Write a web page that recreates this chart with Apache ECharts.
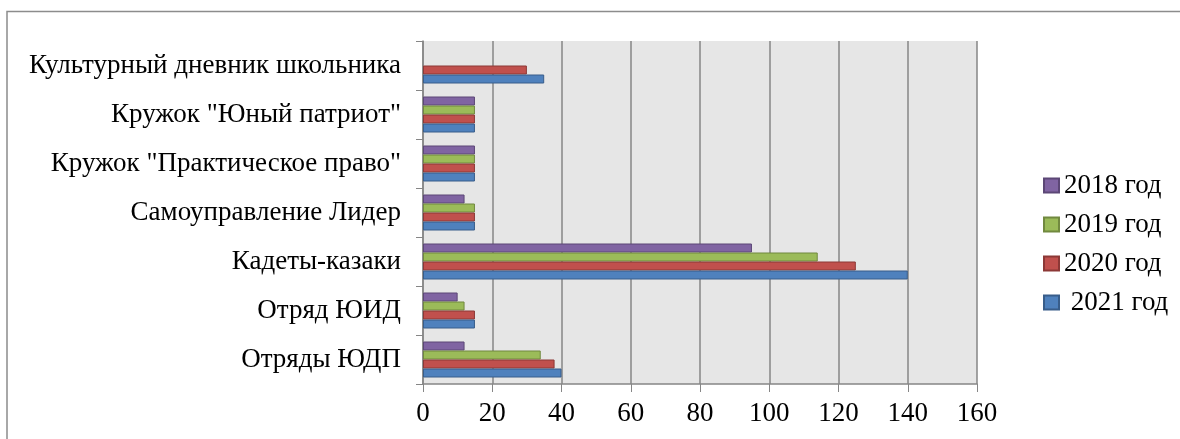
<!DOCTYPE html>
<html><head><meta charset="utf-8">
<script src="https://cdn.jsdelivr.net/npm/echarts@6/dist/echarts.min.js"></script>
<style>html,body{margin:0;padding:0;background:#fff}#c{width:1180px;height:439px}</style>
</head><body><div id="c"></div>
<script>
const categories = ['Отряды ЮДП','Отряд ЮИД','Кадеты-казаки','Самоуправление Лидер','Кружок "Практическое право"','Кружок "Юный патриот"','Культурный дневник школьника'];
const s2021 = [40, 15, 140, 15, 15, 15, 35];
const s2020 = [38, 15, 125, 15, 15, 15, 30];
const s2019 = [34, 12, 114, 15, 15, 15, null];
const s2018 = [12, 10, 95, 12, 15, 15, null];
const legendOrder = ['2018 год','2019 год','2020 год',' 2021 год'];
const xTicks = [0,20,40,60,80,100,120,140,160];

const chart = echarts.init(document.getElementById('c'));
const font = '"Liberation Serif","Times New Roman",serif';
function bar(name, data, color, border){
  return {name, type:'bar', data, barWidth:9, barGap:'0%',
    itemStyle:{color, borderColor:border, borderWidth:1}};
}
chart.setOption({
  animation:false,
  graphic:[{type:'rect', shape:{x:7, y:11.5, width:1300, height:600},
    style:{fill:'none', stroke:'#8c8c8c', lineWidth:1.5}, z:-10}],
  grid:{left:423, right:203, top:41, bottom:55, show:true, backgroundColor:'#e6e6e6', borderWidth:0},
  legend:{orient:'vertical', left:1038, top:167, itemWidth:15, itemHeight:14, itemGap:12,
    data:legendOrder.map(n=>({name:n, icon:'rect'})),
    textStyle:{fontFamily:font, fontSize:27, color:'#000', lineHeight:27, padding:[0,0,0,0]}},
  xAxis:{type:'value', min:0, max:160, interval:20,
    axisLine:{show:true, lineStyle:{color:'#868686', width:1.5}},
    axisTick:{show:true, length:8, lineStyle:{color:'#868686'}},
    splitLine:{show:true, lineStyle:{color:'#868686', width:1.5}},
    axisLabel:{fontFamily:font, fontSize:27, color:'#000', margin:16,
      formatter:v=>String(xTicks[xTicks.indexOf(v)])}},
  yAxis:{type:'category', data:categories,
    axisLine:{show:true, lineStyle:{color:'#868686', width:1.5}},
    axisTick:{show:true, length:7, lineStyle:{color:'#868686'}},
    axisLabel:{fontFamily:font, fontSize:27, color:'#000', margin:22}},
  series:[
    bar('2018 год', s2018, '#8064a2', '#5c4776'),
    bar('2019 год', s2019, '#9bbb59', '#71893f'),
    bar('2020 год', s2020, '#c0504d', '#8c3836'),
    bar(' 2021 год', s2021, '#4f81bd', '#385d8a')
  ]
});
</script></body></html>
